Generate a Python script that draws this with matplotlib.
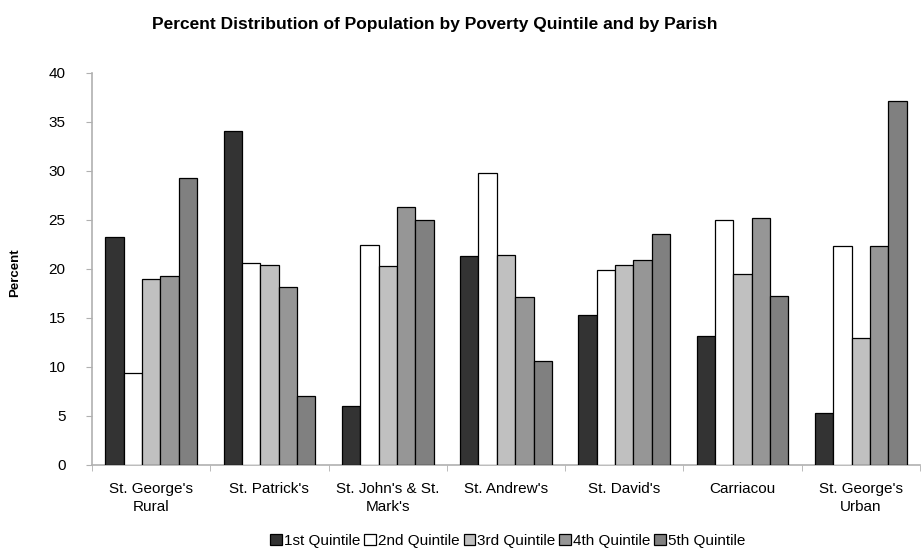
import matplotlib
matplotlib.use("Agg")
import matplotlib.pyplot as plt
import numpy as np

plt.rcParams['font.family'] = ['Liberation Sans', 'DejaVu Sans']

parishes = ["St. George's\nRural", "St. Patrick's", "St. John's & St.\nMark's",
            "St. Andrew's", "St. David's", "Carriacou", "St. George's\nUrban"]
series_names = ["1st Quintile", "2nd Quintile", "3rd Quintile", "4th Quintile", "5th Quintile"]
q1 = [23.2, 34.0, 6.0, 21.3, 15.3, 13.1, 5.3]
q2 = [9.4, 20.6, 22.4, 29.8, 19.9, 25.0, 22.3]
q3 = [19.0, 20.4, 20.3, 21.4, 20.4, 19.5, 12.9]
q4 = [19.3, 18.1, 26.3, 17.1, 20.9, 25.2, 22.3]
q5 = [29.2, 7.0, 25.0, 10.6, 23.5, 17.2, 37.1]
colors = ["#333333", "#ffffff", "#c0c0c0", "#969696", "#808080"]

W, H = 923, 550
fig = plt.figure(figsize=(W / 100, H / 100), dpi=100)
ax = fig.add_axes([92 / W, 85 / H, 828 / W, 392.5 / H])

x = np.arange(len(parishes))
w = 0.155
for i, (vals, c, name) in enumerate(zip([q1, q2, q3, q4, q5], colors, series_names)):
    ax.bar(x + (i - 2) * w, vals, width=w, color=c, edgecolor="black",
           linewidth=0.9, label=name, zorder=3)

ax.set_xlim(-0.5, len(parishes) - 0.5)
ax.set_ylim(0, 40)
ax.set_yticks(range(0, 41, 5))
ax.set_xticks(x)
ax.set_xticklabels(parishes, fontsize=11, linespacing=1.35)
ax.set_xticks(np.arange(-0.5, len(parishes), 1), minor=True)
ax.tick_params(axis='x', which='major', length=0, pad=12)
ax.tick_params(axis='x', which='minor', length=4, color="#b0b0b0", direction='out')
ax.tick_params(axis='y', length=4, color="#b0b0b0", labelsize=11, pad=15)
for s in ["top", "right"]:
    ax.spines[s].set_visible(False)
for s in ["left", "bottom"]:
    ax.spines[s].set_color("#b0b0b0")
    ax.spines[s].set_linewidth(1.2)

fig.text(15 / W, 1 - 273 / H, "Percent", rotation=90, fontsize=9.5,
         fontweight="bold", ha="center", va="center")
fig.text(435 / W, 1 - 25 / H,
         "Percent Distribution of Population by Poverty Quintile and by Parish",
         fontsize=12.5, fontweight="bold", ha="center", va="center")

leg = fig.legend(loc="center", bbox_to_anchor=(508 / W, 1 - 541 / H), ncol=5,
                 frameon=False, fontsize=11, handlelength=0.75, handleheight=0.75,
                 handletextpad=0.15, columnspacing=0.25, borderpad=0)

fig.savefig("out.png", dpi=100)
